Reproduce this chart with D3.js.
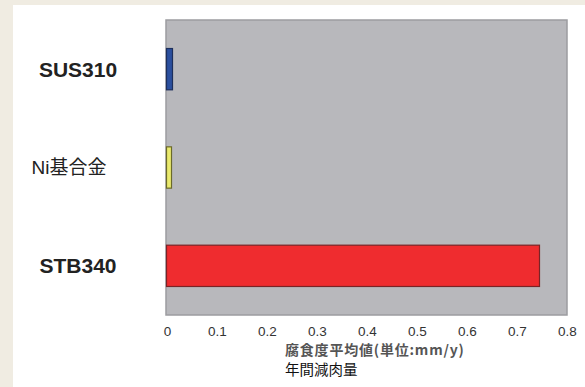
<!DOCTYPE html>
<html>
<head>
<meta charset="utf-8">
<script src="https://cdn.jsdelivr.net/npm/d3@7"></script>
<style>
  body { margin: 0; background: #f0ece2; }
  text { font-family: "Liberation Sans", Arial, "Noto Sans CJK JP", sans-serif; }
</style>
</head>
<body>
<div id="chart"></div>
<script>
// data
var materials = ["SUS310", "Ni基合金", "STB340"];
var corrosion = [0.011, 0.009, 0.745];
var barColors = ["#2b4f9e", "#eaea6e", "#ef2c2f"];
var barStrokes = ["#1d2f5c", "#6b6a2a", "#7a2326"];
var boldLabel = [true, false, true];
var xTicks = [0, 0.1, 0.2, 0.3, 0.4, 0.5, 0.6, 0.7, 0.8];
var axisTitle = ["腐食度平均値(単位:mm/y)", "年間減肉量"];

var svg = d3.select("#chart").append("svg").attr("width", 585).attr("height", 387);

// white panel on beige
svg.append("rect").attr("x", 13).attr("y", 5).attr("width", 572).attr("height", 382).attr("fill", "#ffffff");

var plot = {left: 166, top: 20, right: 567, bottom: 315};

var x = d3.scaleLinear().domain([0, 0.8]).range([167, 567]);
var y = d3.scaleBand().domain(materials).range([plot.top, plot.bottom]).paddingInner(0.58).paddingOuter(0.29);

// plot background
svg.append("rect")
   .attr("x", plot.left).attr("y", plot.top)
   .attr("width", plot.right - plot.left).attr("height", plot.bottom - plot.top)
   .attr("fill", "#b8b8bc").attr("stroke", "#9c9ca0").attr("stroke-width", 1.5);

// bars
svg.selectAll(".bar")
   .data(materials)
   .enter().append("rect")
   .attr("class", "bar")
   .attr("x", x(0) - 0.5)
   .attr("y", function (d) { return y(d); })
   .attr("width", function (d, i) { return x(corrosion[i]) - x(0) + 0.5; })
   .attr("height", y.bandwidth())
   .attr("fill", function (d, i) { return barColors[i]; })
   .attr("stroke", function (d, i) { return barStrokes[i]; })
   .attr("stroke-width", 1.2);

// category labels
svg.selectAll(".cat")
   .data(materials)
   .enter().append("text")
   .attr("class", "cat")
   .attr("x", function (d, i) { return boldLabel[i] ? 78 : 69; })
   .attr("y", function (d) { return y(d) + y.bandwidth() / 2; })
   .attr("dy", "0.36em")
   .attr("text-anchor", "middle")
   .attr("font-size", function (d, i) { return boldLabel[i] ? 21 : 19; })
   .attr("font-weight", function (d, i) { return boldLabel[i] ? "bold" : "normal"; })
   .attr("fill", "#222")
   .text(function (d) { return d; });

// x axis (labels only)
var xAxis = d3.axisBottom(x).tickValues(xTicks).tickSize(0).tickPadding(0)
   .tickFormat(function (d) { return d === 0 ? "0" : d3.format(".1f")(d); });
var gx = svg.append("g").attr("transform", "translate(0," + 326 + ")").call(xAxis);
gx.select(".domain").remove();
gx.selectAll("text").attr("font-size", 13.5).attr("fill", "#333")
   .style("font-family", "'Liberation Sans', Arial, sans-serif");

// axis title
svg.append("text")
   .attr("x", 285).attr("y", 355)
   .attr("font-size", 14).attr("font-weight", "bold").attr("fill", "#555")
   .attr("letter-spacing", 0.8)
   .style("font-family", "'Noto Sans CJK JP', sans-serif")
   .text(axisTitle[0]);
svg.append("text")
   .attr("x", 285).attr("y", 375)
   .attr("font-size", 14.5).attr("fill", "#111")
   .style("font-family", "'Noto Sans CJK JP', sans-serif")
   .text(axisTitle[1]);
</script>
</body>
</html>
